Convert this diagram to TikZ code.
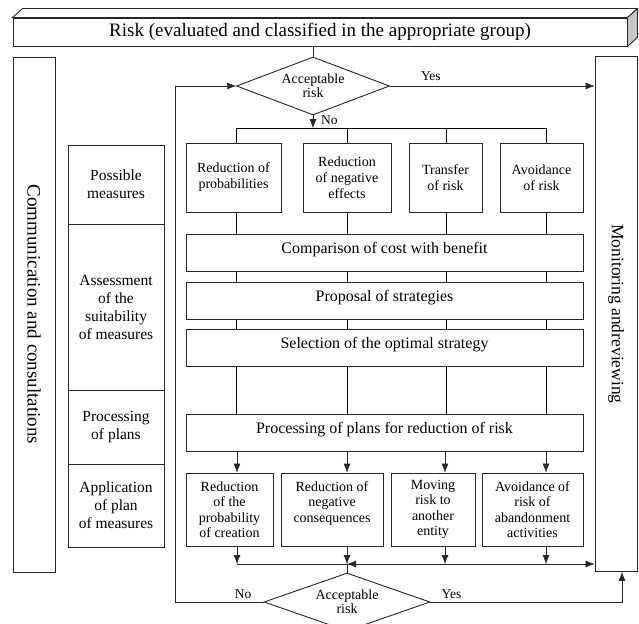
\documentclass[tikz,border=0pt]{standalone}
\usepackage{fontspec}
\setmainfont{Liberation Serif}
\usetikzlibrary{arrows.meta,shapes.geometric,backgrounds,positioning}

\begin{document}
\begin{tikzpicture}
[x=1pt, y=-1pt, line width=0.9pt, draw=black!85,
>={Latex[length=9pt,width=7pt]},
box/.style={rectangle, draw=black!85, fill=white, align=center, inner sep=1pt},
wide/.style={box, minimum width=397pt, minimum height=37pt,
text height=12pt, text depth=11pt, font=\fontsize{16}{18}\selectfont},
small/.style={box, minimum height=69pt, font=\fontsize{14}{16}\selectfont},
low/.style={box, minimum height=73pt, font=\fontsize{14}{15.5}\selectfont},
stage/.style={box, minimum width=96pt, font=\fontsize{15.5}{18}\selectfont},
side/.style={box, minimum width=42pt, minimum height=515pt},
check/.style={diamond, draw=black!85, fill=white, aspect=2.6, inner sep=0pt,
minimum width=153pt, minimum height=58pt, align=center,
font=\fontsize{14}{12.5}\selectfont},
lbl/.style={font=\fontsize{13.5}{15}\selectfont, inner sep=0pt}]
\useasboundingbox (0,0) rectangle (639,623);
\clip (0,0) rectangle (639,623);

% banner
\node[box, minimum width=614pt, minimum height=28pt,
font=\fontsize{19}{21}\selectfont] (risk) at (320,32)
{Risk (evaluated and classified in the appropriate group)};
\draw[fill=white] (risk.north west) -- ++(10,-9) -- ([shift={(10,-9)}]risk.north east)
 -- (risk.north east) -- cycle;
\draw[fill=black!22] (risk.north east) -- ++(10,-9) -- ([shift={(10,-9)}]risk.south east)
 -- (risk.south east) -- cycle;

% side columns
\node[side, font=\fontsize{19}{21}\selectfont] (comm) at (34,314.5)
{\rotatebox[origin=c]{-90}{Communication and consultations}};
\node[side, font=\fontsize{17.5}{20}\selectfont] (monitor) at (616,314)
{\rotatebox[origin=c]{-90}{Monitoring andreviewing}};

% stages
\node[stage, minimum height=79pt] (possible) at (116,184.5) {Possible\\measures};
\node[stage, minimum height=166pt] (assess) at (116,307) {Assessment\\of the\\suitability\\of measures};
\node[stage, minimum height=74pt] (plans) at (116,427) {Processing\\of plans};
\node[stage, minimum height=83pt] (apply) at (116,505.5) {Application\\of plan\\of measures};

% decisions
\node[check] (acc1) at (313,86) {Acceptable\\risk};
\node[check, minimum width=166pt] (acc2) at (347,602) {Acceptable\\risk};

% possible measures
\node[small, minimum width=95pt] (redprob) at (233.5,177.5) {Reduction of\\probabilities};
\node[small, minimum width=88pt] (redneg) at (347,177.5) {Reduction\\of negative\\effects};
\node[small, minimum width=73pt] (transfer) at (445.5,177.5) {Transfer\\of risk};
\node[small, minimum width=83pt] (avoid) at (541.5,177.5) {Avoidance\\of risk};

% assessment
\node[wide] (cmp) at (384.5,253) {Comparison of cost with benefit};
\node[wide] (prop) at (384.5,300.5) {Proposal of strategies};
\node[wide] (sel) at (384.5,348) {Selection of the optimal strategy};
\node[wide] (proc) at (384.5,432.5) {Processing of plans for reduction of risk};

% application
\node[low, minimum width=87pt] (lowprob) at (229.5,509.5) {Reduction\\of the\\probability\\of creation};
\node[low, minimum width=102pt] (lowneg) at (332,509.5) {Reduction of\\negative\\consequences\\~};
\node[low, minimum width=84pt] (moving) at (433,509.5) {Moving\\risk to\\another\\entity};
\node[low, minimum width=101pt] (abandon) at (532.5,509.5) {Avoidance of\\risk of\\abandonment\\activities};

\coordinate (split) at (313,128);
\coordinate (merge) at (347,564);
\coordinate (loop) at (175,300);
\coordinate (exit) at ([xshift=6pt]monitor.south);

\begin{pgfonlayer}{background}
\draw (236,128) -- (546,128);
\foreach \x in {236,347,446,546}
  \draw (\x,128) -- (\x,0 |- proc.north);
\end{pgfonlayer}

\draw (risk.south -| acc1.north) -- (acc1.north);
\draw[->] (acc1.east) -- (acc1.east -| monitor.west) node[lbl, pos=0.2, above=5pt] {Yes};
\draw[->] (acc1.south) -- (split) node[lbl, pos=0.35, right=8pt] {No};

\foreach \x in {237,347,445,546} {
  \draw[->] (\x,0 |- proc.south) -- (\x,0 |- lowprob.north);
  \draw[->] (\x,0 |- lowprob.south) -- (\x,564);
}
\draw (237,564) -- (merge);
\draw[<->] (merge) -- (merge -| monitor.west);
\draw (merge) -- (acc2.north);

\draw[->] (acc2.west) -- node[lbl, above=3pt, pos=0.23] {No} (loop |- acc2.west)
 -- (loop |- acc1.west) -- (acc1.west);
\draw[->] (acc2.east) -- node[lbl, above=3pt, pos=0.11] {Yes} (acc2.east -| exit) -- (exit);
\end{tikzpicture}
\end{document}
